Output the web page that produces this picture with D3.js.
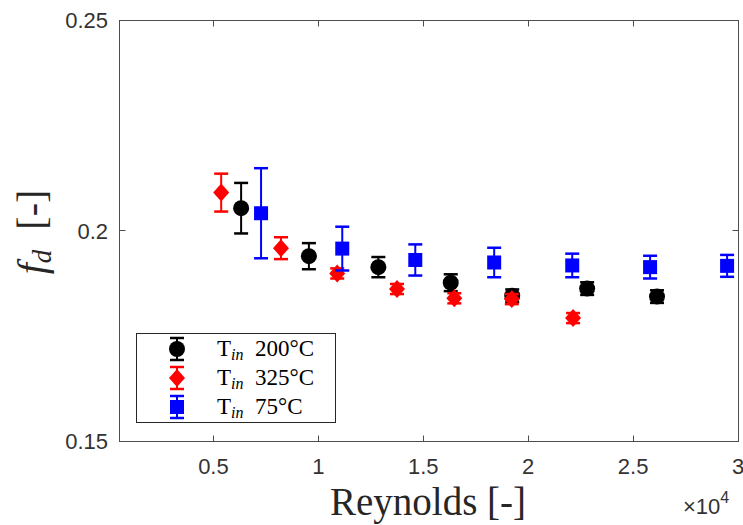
<!DOCTYPE html>
<html>
<head>
<meta charset="utf-8">
<script src="https://cdn.jsdelivr.net/npm/d3@7"></script>
<style>
  body { margin: 0; background: #fff; }
  svg { display: block; }
</style>
</head>
<body>
<svg id="chart"></svg>
<script>
var width = 743, height = 525;

// T_in 200°C
var re200 = [6320, 9550, 12860, 16310, 19240, 22810, 26140];
var fd200 = [0.2053, 0.1939, 0.1913, 0.1876, 0.1845, 0.1862, 0.1843];
var err200 = [0.0060, 0.0031, 0.0024, 0.0020, 0.0015, 0.0015, 0.0015];

// T_in 325°C
var re325 = [5370, 8220, 10900, 13750, 16480, 19220, 22140];
var fd325 = [0.2090, 0.1958, 0.1898, 0.1861, 0.1839, 0.1837, 0.1792];
var err325 = [0.0045, 0.0026, 0.0012, 0.0012, 0.0012, 0.0012, 0.0012];

// T_in 75°C
var re75 = [7270, 11140, 14620, 18380, 22100, 25810, 29480];
var fd75 = [0.2041, 0.1957, 0.1930, 0.1924, 0.1917, 0.1913, 0.1916];
var err75 = [0.0107, 0.0052, 0.0037, 0.0035, 0.0028, 0.0027, 0.0026];

var xTicks = [5000, 10000, 15000, 20000, 25000, 30000];
var xTickLabels = ["0.5", "1", "1.5", "2", "2.5", "3"];
var yTicks = [0.15, 0.2, 0.25];
var yTickLabels = ["0.15", "0.2", "0.25"];

var seriesNames = ["200°C", "325°C", "75°C"];

var pl = 119, pr = 738, pt = 20, pb = 441;

var x = d3.scaleLinear().domain([500, 30000]).range([pl, pr]);
var y = d3.scaleLinear().domain([0.15, 0.25]).range([pb, pt]);

var svg = d3.select("#chart").attr("width", width).attr("height", height);
svg.append("rect").attr("width", width).attr("height", height).attr("fill", "#fff");

var axisColor = "#4d4d4d";
var tickFont = "'Liberation Sans', Arial, sans-serif";
var serif = "'Liberation Serif', 'Times New Roman', serif";

// axes box
svg.append("rect")
    .attr("x", pl + 0.5).attr("y", pt + 0.5)
    .attr("width", pr - pl).attr("height", pb - pt)
    .attr("fill", "none").attr("stroke", axisColor).attr("stroke-width", 1);

// ticks inside, on all four sides
var tickLen = 6;
xTicks.forEach(function(t, i) {
    var px = Math.round(x(t)) + 0.5;
    svg.append("line").attr("x1", px).attr("x2", px).attr("y1", pb + 0.5).attr("y2", pb + 0.5 - tickLen)
        .attr("stroke", axisColor);
    svg.append("line").attr("x1", px).attr("x2", px).attr("y1", pt + 0.5).attr("y2", pt + 0.5 + tickLen)
        .attr("stroke", axisColor);
    svg.append("text").attr("x", x(t)).attr("y", 474)
        .attr("text-anchor", "middle")
        .style("font-family", tickFont).style("font-size", "22px").attr("fill", "#333")
        .text(xTickLabels[i]);
});
yTicks.forEach(function(t, i) {
    var py = Math.round(y(t)) + 0.5;
    svg.append("line").attr("x1", pl + 0.5).attr("x2", pl + 0.5 + tickLen).attr("y1", py).attr("y2", py)
        .attr("stroke", axisColor);
    svg.append("line").attr("x1", pr + 0.5).attr("x2", pr + 0.5 - tickLen).attr("y1", py).attr("y2", py)
        .attr("stroke", axisColor);
    svg.append("text").attr("x", 108).attr("y", y(t) + 8)
        .attr("text-anchor", "end")
        .style("font-family", tickFont).style("font-size", "22px").attr("fill", "#333")
        .text(yTickLabels[i]);
});

// x10^4 exponent
var ex = svg.append("text").attr("x", 683).attr("y", 514)
    .style("font-family", tickFont).style("font-size", "22px").attr("fill", "#333");
ex.append("tspan").text("×10");
ex.append("tspan").attr("dy", -11).style("font-size", "16px").text("4");

// axis labels
svg.append("text").attr("x", 428).attr("y", 515)
    .attr("text-anchor", "middle")
    .style("font-family", serif).style("font-size", "39px").attr("fill", "#262626")
    .text("Reynolds [-]");

var yl = svg.append("text").attr("transform", "translate(45,232) rotate(-90)")
    .attr("text-anchor", "middle")
    .style("font-family", serif).style("font-size", "40px").attr("fill", "#262626");
yl.append("tspan").style("font-style", "italic").text("f");
yl.append("tspan").style("font-style", "italic").style("font-size", "27px").attr("dy", 6).text("d");
yl.append("tspan").attr("dy", -6).text("\u2002[-]");

// markers
function drawMarker(g, shape, cx, cy, color) {
    if (shape === "circle") {
        g.append("circle").attr("cx", cx).attr("cy", cy).attr("r", 8).attr("fill", color);
    } else if (shape === "diamond") {
        g.append("path")
            .attr("d", "M" + cx + "," + (cy - 9) + "L" + (cx + 8) + "," + cy + "L" + cx + "," + (cy + 9) + "L" + (cx - 8) + "," + cy + "Z")
            .attr("fill", color);
    } else {
        g.append("rect").attr("x", cx - 7).attr("y", cy - 7).attr("width", 14).attr("height", 14).attr("fill", color);
    }
}

function drawErr(g, cx, y1, y2, color) {
    g.append("line").attr("x1", cx).attr("x2", cx).attr("y1", y1).attr("y2", y2)
        .attr("stroke", color).attr("stroke-width", 2);
    [y1, y2].forEach(function(yy) {
        g.append("line").attr("x1", cx - 7).attr("x2", cx + 7).attr("y1", yy).attr("y2", yy)
            .attr("stroke", color).attr("stroke-width", 2.5);
    });
}

var series = [
    {re: re200, fd: fd200, err: err200, color: "#000000", shape: "circle"},
    {re: re325, fd: fd325, err: err325, color: "#ff0000", shape: "diamond"},
    {re: re75, fd: fd75, err: err75, color: "#0000ff", shape: "square"}
];

series.forEach(function(s) {
    var g = svg.append("g");
    s.re.forEach(function(r, i) {
        var cx = x(r);
        drawErr(g, cx, y(s.fd[i] + s.err[i]), y(s.fd[i] - s.err[i]), s.color);
        drawMarker(g, s.shape, cx, y(s.fd[i]), s.color);
    });
});

// legend
var lg = svg.append("g");
lg.append("rect").attr("x", 136.5).attr("y", 333.5).attr("width", 199).attr("height", 89)
    .attr("fill", "#fff").attr("stroke", "#262626").attr("stroke-width", 1);
var rowY = [349, 378, 407];
series.forEach(function(s, i) {
    var cy = rowY[i];
    drawErr(lg, 177, cy - 11, cy + 11, s.color);
    drawMarker(lg, s.shape, 177, cy, s.color);
    var t = lg.append("text").attr("x", 217).attr("y", cy + 7)
        .style("font-family", serif).style("font-size", "23px").attr("fill", "#000");
    t.append("tspan").text("T");
    t.append("tspan").style("font-style", "italic").style("font-size", "16px").attr("dy", 4).text("in");
    t.append("tspan").attr("dy", -4).text("\u2002" + seriesNames[i]);
});
</script>
</body>
</html>
